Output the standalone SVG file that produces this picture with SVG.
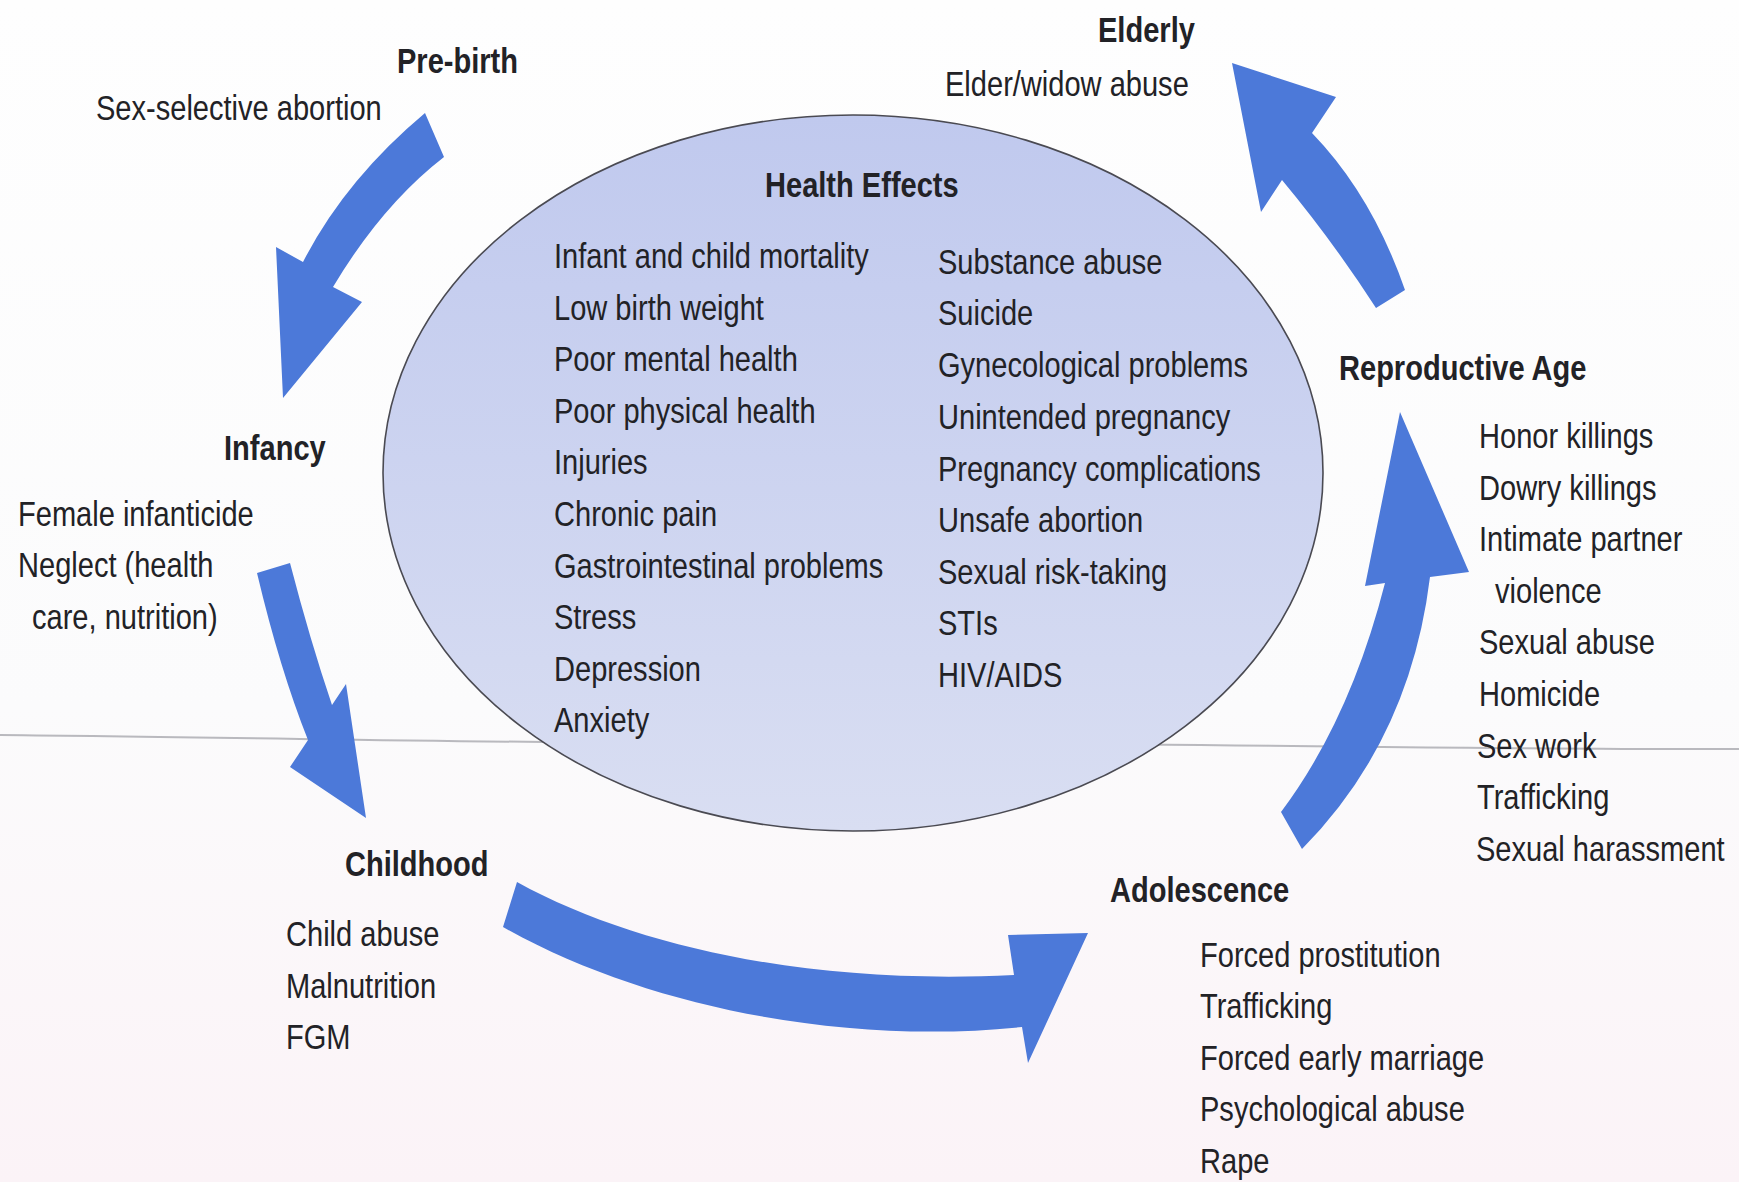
<svg xmlns="http://www.w3.org/2000/svg" width="1739" height="1182" viewBox="0 0 1739 1182">
  <defs>
    <linearGradient id="ellFill" x1="0" y1="0" x2="0" y2="1">
      <stop offset="0" stop-color="#c0c9ee"/>
      <stop offset="1" stop-color="#d9def2"/>
    </linearGradient>
    <linearGradient id="paper" x1="0" y1="0" x2="0" y2="1">
      <stop offset="0" stop-color="#fefefe"/>
      <stop offset="0.6" stop-color="#fbfbfc"/>
      <stop offset="1" stop-color="#fbf3f7"/>
    </linearGradient>
  </defs>
  <style>
    text { font-family: "Liberation Sans", Arial, Helvetica, sans-serif; font-size: 35px; fill: #222226; }
    .b { font-weight: bold; }
    .arrow { fill: #4c79d9; }
    .crease { fill: none; stroke: #9c9ca4; stroke-width: 2; opacity: 0.7; }
  </style>

  <rect x="0" y="0" width="1739" height="1182" fill="url(#paper)"/>
  <path class="crease" d="M0,735 C300,738 600,745 900,744 C1200,743 1500,750 1739,749"/>

  <g id="health-effects">
    <ellipse cx="853" cy="473" rx="470" ry="358" fill="url(#ellFill)" stroke="#4a4a52" stroke-width="1.6"/>
    <text class="b" transform="translate(765 197) scale(.83 1)">Health Effects</text>
    <text transform="translate(554 268) scale(.83 1)">Infant and child mortality</text>
    <text transform="translate(554 320) scale(.83 1)">Low birth weight</text>
    <text transform="translate(554 371) scale(.83 1)">Poor mental health</text>
    <text transform="translate(554 423) scale(.83 1)">Poor physical health</text>
    <text transform="translate(554 474) scale(.83 1)">Injuries</text>
    <text transform="translate(554 526) scale(.83 1)">Chronic pain</text>
    <text transform="translate(554 578) scale(.83 1)">Gastrointestinal problems</text>
    <text transform="translate(554 629) scale(.83 1)">Stress</text>
    <text transform="translate(554 681) scale(.83 1)">Depression</text>
    <text transform="translate(554 732) scale(.83 1)">Anxiety</text>
    <text transform="translate(938 274) scale(.83 1)">Substance abuse</text>
    <text transform="translate(938 325) scale(.83 1)">Suicide</text>
    <text transform="translate(938 377) scale(.83 1)">Gynecological problems</text>
    <text transform="translate(938 429) scale(.83 1)">Unintended pregnancy</text>
    <text transform="translate(938 481) scale(.83 1)">Pregnancy complications</text>
    <text transform="translate(938 532) scale(.83 1)">Unsafe abortion</text>
    <text transform="translate(938 584) scale(.83 1)">Sexual risk-taking</text>
    <text transform="translate(938 635) scale(.83 1)">STIs</text>
    <text transform="translate(938 687) scale(.83 1)">HIV/AIDS</text>
  </g>

  <g id="pre-birth">
    <text class="b" transform="translate(397 73) scale(.83 1)">Pre-birth</text>
    <text transform="translate(96 120) scale(.83 1)">Sex-selective abortion</text>
  </g>

  <g id="infancy">
    <text class="b" transform="translate(224 460) scale(.83 1)">Infancy</text>
    <text transform="translate(18 526) scale(.83 1)">Female infanticide</text>
    <text transform="translate(18 577) scale(.83 1)">Neglect (health</text>
    <text transform="translate(32 629) scale(.83 1)">care, nutrition)</text>
  </g>

  <g id="childhood">
    <text class="b" transform="translate(345 876) scale(.83 1)">Childhood</text>
    <text transform="translate(286 946) scale(.83 1)">Child abuse</text>
    <text transform="translate(286 998) scale(.83 1)">Malnutrition</text>
    <text transform="translate(286 1049) scale(.83 1)">FGM</text>
  </g>

  <g id="adolescence">
    <text class="b" transform="translate(1110 902) scale(.83 1)">Adolescence</text>
    <text transform="translate(1200 967) scale(.83 1)">Forced prostitution</text>
    <text transform="translate(1200 1018) scale(.83 1)">Trafficking</text>
    <text transform="translate(1200 1070) scale(.83 1)">Forced early marriage</text>
    <text transform="translate(1200 1121) scale(.83 1)">Psychological abuse</text>
    <text transform="translate(1200 1173) scale(.83 1)">Rape</text>
  </g>

  <g id="reproductive-age">
    <text class="b" transform="translate(1339 380) scale(.83 1)">Reproductive Age</text>
    <text transform="translate(1479 448) scale(.83 1)">Honor killings</text>
    <text transform="translate(1479 500) scale(.83 1)">Dowry killings</text>
    <text transform="translate(1479 551) scale(.83 1)">Intimate partner</text>
    <text transform="translate(1495 603) scale(.83 1)">violence</text>
    <text transform="translate(1479 654) scale(.83 1)">Sexual abuse</text>
    <text transform="translate(1479 706) scale(.83 1)">Homicide</text>
    <text transform="translate(1477 758) scale(.83 1)">Sex work</text>
    <text transform="translate(1477 809) scale(.83 1)">Trafficking</text>
    <text transform="translate(1476 861) scale(.83 1)">Sexual harassment</text>
  </g>

  <g id="elderly">
    <text class="b" transform="translate(1098 42) scale(.83 1)">Elderly</text>
    <text transform="translate(945 96) scale(.83 1)">Elder/widow abuse</text>
  </g>

  <g id="connectors">
    <path class="arrow" d="M425,113 Q345,180 303,262 L276,247 L283,398 L362,302 L333,287 Q382,205 444,157 Z"/>
    <path class="arrow" d="M257,573 Q280,670 308,740 L290,767 L366,818 L346,684 L332,705 Q310,640 290,563 Z"/>
    <path class="arrow" d="M517,882 C640,950 820,985 1014,975 L1008,935 L1088,933 L1028,1063 L1022,1027 C850,1045 650,1010 503,927 Z"/>
    <path class="arrow" d="M1281,812 Q1350,720 1385,583 L1365,586 L1400,412 L1469,572 L1430,577 Q1410,740 1302,849 Z"/>
    <path class="arrow" d="M1405,290 Q1372,195 1312,133 L1336,97 L1232,63 L1261,212 L1282,180 Q1332,240 1376,308 Z"/>
  </g>
</svg>
